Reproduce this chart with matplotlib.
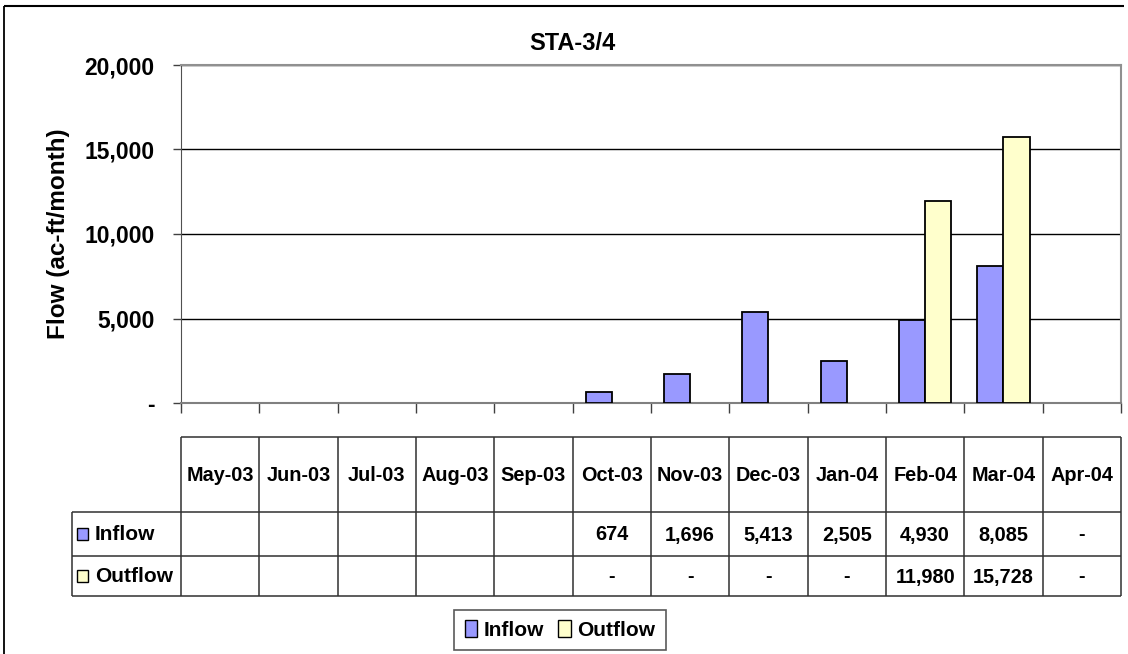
import numpy as np
import matplotlib
matplotlib.use("Agg")
import matplotlib.pyplot as plt
from matplotlib.patches import Patch, Rectangle
from matplotlib.transforms import blended_transform_factory
from matplotlib.lines import Line2D

plt.rcParams['font.family'] = ['Liberation Sans', 'DejaVu Sans']
plt.rcParams['font.weight'] = 'bold'

# ---- data ----
title = "STA-3/4"
ylabel = "Flow (ac-ft/month)"
months = ["May-03", "Jun-03", "Jul-03", "Aug-03", "Sep-03", "Oct-03",
          "Nov-03", "Dec-03", "Jan-04", "Feb-04", "Mar-04", "Apr-04"]
inflow = [None, None, None, None, None, 674, 1696, 5413, 2505, 4930, 8085, 0]
outflow = [None, None, None, None, None, 0, 0, 0, 0, 11980, 15728, 0]
series_names = ["Inflow", "Outflow"]
colors = ["#9999FF", "#FFFFCC"]
yticks = [0, 5000, 10000, 15000, 20000]
ytick_labels = ["-", "5,000", "10,000", "15,000", "20,000"]

W, H = 1128, 654
fig = plt.figure(figsize=(W / 100, H / 100), dpi=100)

# overlay in pixel coordinates
ov = fig.add_axes([0, 0, 1, 1], zorder=-1)
ov.set_xlim(0, W)
ov.set_ylim(H, 0)
ov.axis('off')

# chart frame (left and top visible)
ov.plot([4, 4], [6, H + 5], color='black', lw=1.3, solid_capstyle='butt')
ov.plot([4, 1124], [6, 6], color='black', lw=1.5, solid_capstyle='butt')

# plot area
L, T, R, B = 181, 65, 1121, 403
ax = fig.add_axes([L / W, 1 - B / H, (R - L) / W, (B - T) / H])
n = len(months)
x = np.arange(n)
bw = 1 / 3
for vals, off, c in [(inflow, -bw / 2, colors[0]), (outflow, bw / 2, colors[1])]:
    xs = [xi + off for xi, v in zip(x, vals) if v]
    hs = [v for v in vals if v]
    ax.bar(xs, hs, width=bw, color=c, edgecolor='black', linewidth=1.3, zorder=3)

ax.set_xlim(-0.5, n - 0.5)
ax.set_ylim(0, 20000)
ax.set_yticks(yticks)
ax.set_yticklabels(ytick_labels, fontsize=16.5, fontweight='bold')
ax.set_xticks(np.arange(-0.5, n, 1))
ax.set_xticklabels([])
ax.tick_params(axis='x', direction='out', length=7, width=1, color='#404040')
ax.tick_params(axis='y', direction='out', length=6, width=1, color='#404040', pad=13)
ax.grid(axis='y', color='black', lw=1, zorder=1)
for s in ['top', 'right']:
    ax.spines[s].set_color('#909090')
    ax.spines[s].set_linewidth(1.5)
ax.spines['left'].set_color('#505050')
ax.spines['bottom'].set_color('#808080')
ax.spines['bottom'].set_linewidth(1.5)
ax.set_ylabel(ylabel, fontsize=17.5, fontweight='bold')
ax.yaxis.set_label_coords(-(L - 70) / (R - L), 0.5)

fig.text(572 / W, 1 - 44 / H, title, ha='center', va='center',
         fontsize=17, fontweight='bold')

# ---- data table ----
tr = blended_transform_factory(ax.transData, ov.transData)
t_top, t_hdr, t_r1, t_bot = 437, 512, 556, 596
lblL = 72
edge_kw = dict(color='#303030', lw=1.1, solid_capstyle='butt')
for i in range(n + 1):
    ov.add_line(Line2D([i - 0.5, i - 0.5], [t_top, t_bot], transform=tr, **edge_kw))
ov.add_line(Line2D([-0.5, n - 0.5], [t_top, t_top], transform=tr, **edge_kw))
for yy in [t_hdr, t_r1, t_bot]:
    ov.plot([lblL, L], [yy, yy], **edge_kw)
    ov.add_line(Line2D([-0.5, n - 0.5], [yy, yy], transform=tr, **edge_kw))
ov.plot([lblL, lblL], [t_hdr, t_bot], **edge_kw)

for i, m in enumerate(months):
    ov.text(i, (t_top + t_hdr) / 2 + 1, m, transform=tr, ha='center', va='center',
            fontsize=14.3, fontweight='bold')


def fmt(v):
    if v is None:
        return ""
    if v == 0:
        return "-"
    return f"{v:,.0f}"


rows = [(inflow, (t_hdr + t_r1) / 2), (outflow, (t_r1 + t_bot) / 2)]
for (vals, yc), name, c in zip(rows, series_names, colors):
    for i, v in enumerate(vals):
        ov.text(i, yc + 1, fmt(v), transform=tr, ha='center', va='center',
                fontsize=14.3, fontweight='bold')
    ov.add_patch(Rectangle((77, yc - 6), 11, 12, facecolor=c, edgecolor='black', lw=1))
    ov.text(95, yc + 1, name, ha='left', va='center', fontsize=15, fontweight='bold')

# ---- legend ----
handles = [Patch(facecolor=c, edgecolor='black', lw=1) for c in colors]
leg = fig.legend(handles, series_names, loc='center',
                 bbox_to_anchor=(560 / W, 1 - 630 / H), ncol=2, fontsize=15,
                 frameon=True, fancybox=False, edgecolor='#303030',
                 handlelength=0.6, handleheight=0.85, handletextpad=0.3,
                 columnspacing=0.7, borderpad=0.5, borderaxespad=0)
leg.get_frame().set_linewidth(1.2)
for t in leg.get_texts():
    t.set_fontweight('bold')

fig.savefig("out.png", dpi=100, facecolor='white')
